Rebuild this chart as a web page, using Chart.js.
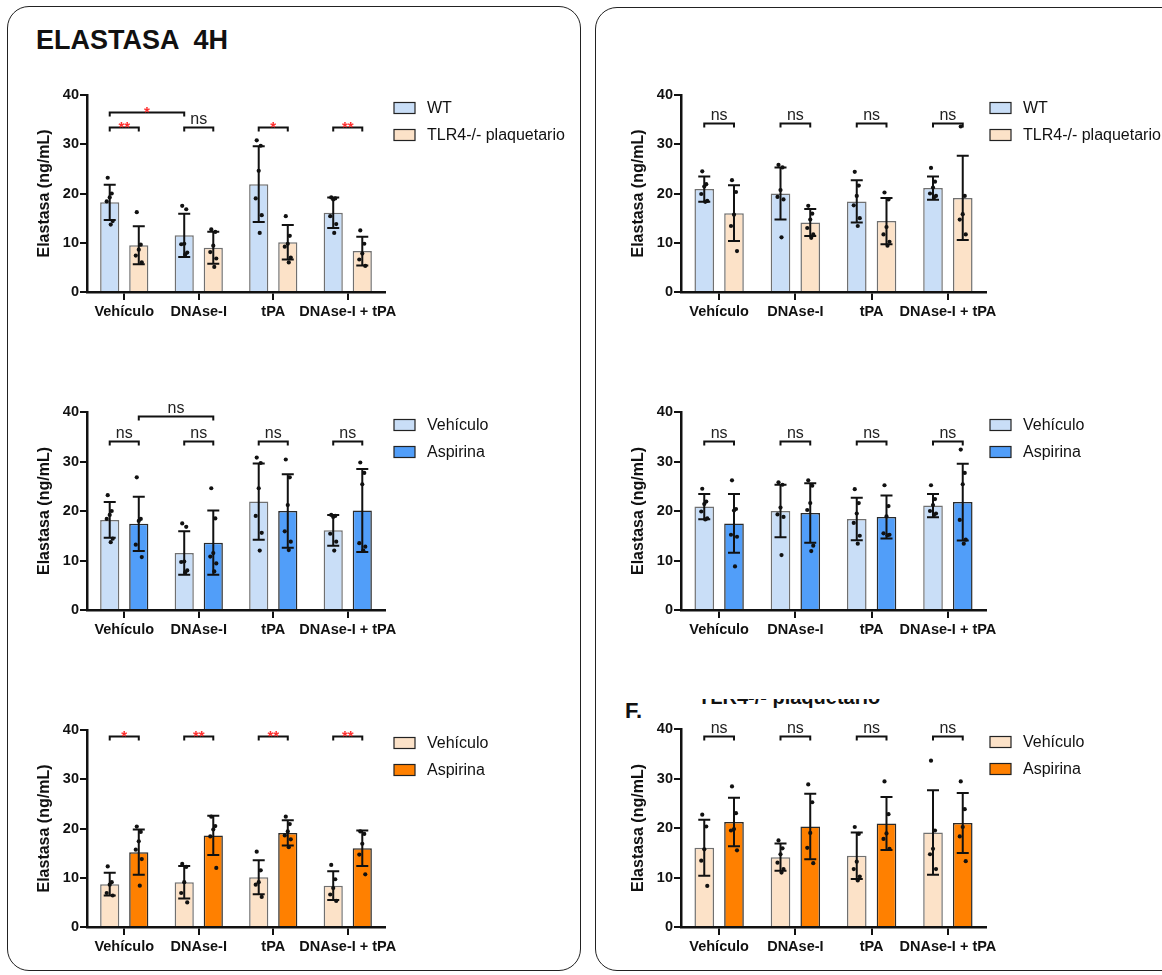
<!DOCTYPE html>
<html>
<head>
<meta charset="utf-8">
<script src="https://cdn.jsdelivr.net/npm/chart.js@4.4.1/dist/chart.umd.min.js"></script>
<style>
  html, body { margin: 0; padding: 0; background: #fff; }
  body { width: 1162px; height: 975px; overflow: hidden; position: relative;
         font-family: "Liberation Sans", Arial, sans-serif; color: #111; }
  .frame { position: absolute; border: 1.5px solid #222; border-radius: 22px; box-sizing: border-box; }
  .panel { position: absolute; }
  .heading { position: absolute; font-weight: bold; line-height: 1; white-space: pre; }
  .clip { position: absolute; overflow: hidden; }
  .clip span { position: absolute; left: 0; white-space: pre; font-weight: bold; line-height: 1; }
</style>
</head>
<body>
<div class="frame" style="left:7px;top:6px;width:574px;height:965px"></div>
<div class="frame" style="left:595px;top:7px;width:620px;height:964px"></div>

<div class="heading" style="left:36px;top:27px;font-size:27px">ELASTASA  4H</div>
<div class="heading" style="left:625px;top:700.4px;font-size:22px">F.</div>
<div class="clip" style="left:698px;top:699px;width:200px;height:11px">
  <span style="top:-12px;font-size:20px">TLR4-/- plaquetario</span>
</div>

<div class="panel" style="left:10px;top:65px"><canvas id="cTopLeft" width="568" height="259"></canvas></div>
<div class="panel" style="left:10px;top:382px"><canvas id="cMidLeft" width="568" height="260"></canvas></div>
<div class="panel" style="left:10px;top:700px"><canvas id="cBotLeft" width="568" height="259"></canvas></div>
<div class="panel" style="left:600px;top:65px"><canvas id="cTopRight" width="562" height="259"></canvas></div>
<div class="panel" style="left:600px;top:382px"><canvas id="cMidRight" width="562" height="260"></canvas></div>
<div class="panel" style="left:600px;top:699px"><canvas id="cBotRight" width="562" height="260"></canvas></div>

<script>
// ---------- categories and axis ----------
const categories = ['Vehículo', 'DNAse-I', 'tPA', 'DNAse-I + tPA'];
const yTicks = [0, 10, 20, 30, 40];
const yTitle = 'Elastasa (ng/mL)';

// ---------- left column: experiment 1 ----------
// WT (also the Vehículo group of the middle-left plot)
const wt1Mean = [18.2, 11.5, 21.9, 16.1];
const wt1Sd = [3.6, 4.4, 7.7, 3.1];
const wt1Points = [
  [23.2, 20.0, 19.2, 18.4, 14.4, 13.7],
  [17.5, 16.8, 9.8, 9.7, 8.0, 7.6],
  [30.8, 29.7, 24.6, 19.0, 15.6, 12.0],
  [19.2, 19.0, 18.8, 15.4, 13.8, 12.0]
];
// TLR4-/- plaquetario
const tlr1Mean = [9.5, 9.0, 10.1, 8.3];
const tlr1Sd = [3.85, 3.25, 3.5, 2.9];
const tlr1Points = [
  [16.2, 9.6, 8.6, 7.4, 6.0],
  [12.7, 12.2, 9.4, 8.1, 6.8, 5.1],
  [15.4, 11.4, 9.8, 9.2, 7.0, 6.0],
  [12.5, 9.8, 7.8, 6.6, 5.3]
];
// Aspirina on WT
const asa1Mean = [17.4, 13.6, 20.0, 20.1];
const asa1Sd = [5.5, 6.5, 7.4, 8.4];
const asa1Points = [
  [26.8, 18.4, 18.0, 13.2, 10.7],
  [24.6, 18.5, 11.5, 10.8, 9.4, 7.8],
  [30.4, 26.8, 21.2, 15.9, 13.8, 12.1],
  [29.8, 27.7, 25.4, 13.5, 12.8, 12.0]
];
// TLR4-/- plaquetario: Vehículo vs Aspirina
const tlrVeh1Mean = [8.7, 9.1, 10.1, 8.4];
const tlrVeh1Sd = [2.3, 3.3, 3.45, 2.9];
const tlrVeh1Points = [
  [12.3, 9.1, 8.6, 6.9, 6.4],
  [12.8, 12.2, 9.1, 6.9, 5.0],
  [15.3, 11.5, 9.1, 8.6, 6.1],
  [12.6, 9.7, 7.9, 6.6, 5.3]
];
const tlrAsa1Mean = [15.2, 18.6, 19.1, 16.0];
const tlrAsa1Sd = [4.6, 4.0, 2.55, 3.6];
const tlrAsa1Points = [
  [20.4, 19.3, 17.4, 15.7, 13.8, 8.4],
  [22.4, 20.5, 19.8, 18.4, 12.0],
  [22.4, 20.9, 19.4, 18.6, 17.8, 16.2],
  [19.4, 18.9, 16.9, 14.7, 10.7]
];

// ---------- right column: experiment 2 ----------
const wt2Mean = [20.9, 20.0, 18.4, 21.1];
const wt2Sd = [2.55, 5.3, 4.3, 2.35];
const wt2Points = [
  [24.5, 21.9, 21.4, 19.9, 18.5, 18.3],
  [25.8, 25.3, 20.7, 19.3, 18.8, 11.1],
  [24.4, 21.6, 19.5, 17.6, 15.0, 13.4],
  [25.2, 22.4, 21.2, 20.0, 19.5, 19.2]
];
const tlr2Mean = [16.0, 14.1, 14.4, 19.1];
const tlr2Sd = [5.65, 2.75, 4.7, 8.55];
const tlr2Points = [
  [22.7, 20.3, 15.7, 13.4, 8.3],
  [17.5, 15.9, 14.7, 13.0, 11.7, 11.0],
  [20.2, 18.8, 13.2, 11.7, 10.2, 9.4],
  [33.6, 19.5, 15.8, 14.7, 11.7]
];
const asa2Mean = [17.5, 19.6, 18.8, 21.8];
const asa2Sd = [5.95, 6.0, 4.35, 7.75];
const asa2Points = [
  [26.2, 20.4, 20.1, 15.2, 14.8, 8.8],
  [26.2, 25.1, 21.6, 20.2, 13.0, 11.9],
  [25.2, 21.0, 18.9, 15.5, 15.2, 15.1],
  [32.4, 27.7, 25.4, 18.2, 14.2, 13.4]
];
const tlrAsa2Mean = [21.2, 20.3, 20.9, 21.0];
const tlrAsa2Sd = [4.9, 6.6, 5.35, 6.05];
const tlrAsa2Points = [
  [28.4, 23.0, 19.8, 19.5, 15.5],
  [28.8, 25.2, 19.0, 16.0, 12.9],
  [29.4, 22.8, 18.9, 17.8, 15.8],
  [29.4, 23.8, 20.2, 18.3, 13.3]
];

// ---------- significance labels (pairwise, per category) ----------
const sigTopLeft = ['**', 'ns', '*', '**'];
const sigMidLeft = ['ns', 'ns', 'ns', 'ns'];
const sigBotLeft = ['*', '**', '**', '**'];
const sigTopRight = ['ns', 'ns', 'ns', 'ns'];
const sigMidRight = ['ns', 'ns', 'ns', 'ns'];
const sigBotRight = ['ns', 'ns', 'ns', 'ns'];

// ---------- styling ----------
const FONT = '"Liberation Sans", Arial, sans-serif';
const INK = '#111';
const LIGHT_BLUE = '#C9DEF7', BLUE = '#519EF9', PEACH = '#FCE2C8', ORANGE = '#FF8000';
const EDGE_LIGHT = '#707070', EDGE_DARK = '#2a2a2a';
const JITTER = [-2, 2, 0, -3, 3, 1];

Chart.defaults.font.family = FONT;

const marksPlugin = {
  id: 'marks',
  afterDatasetsDraw(chart, args, opts) {
    const ctx = chart.ctx;
    const ys = chart.scales.y;
    const area = chart.chartArea;
    ctx.save();
    // error bars (mean ± SD) and individual points
    chart.data.datasets.forEach((ds, di) => {
      const meta = chart.getDatasetMeta(di);
      meta.data.forEach((bar, i) => {
        const m = ds.data[i], sd = ds.sd[i];
        const yTop = ys.getPixelForValue(m + sd);
        const yBot = ys.getPixelForValue(m - sd);
        ctx.strokeStyle = INK;
        ctx.lineWidth = 2;
        ctx.beginPath();
        ctx.moveTo(bar.x, yTop); ctx.lineTo(bar.x, yBot);
        ctx.moveTo(bar.x - 6, yTop); ctx.lineTo(bar.x + 6, yTop);
        ctx.moveTo(bar.x - 6, yBot); ctx.lineTo(bar.x + 6, yBot);
        ctx.stroke();
        ctx.fillStyle = INK;
        ds.points[i].forEach((v, k) => {
          ctx.beginPath();
          ctx.arc(bar.x + JITTER[k % JITTER.length], ys.getPixelForValue(v), 2.1, 0, Math.PI * 2);
          ctx.fill();
        });
      });
    });
    // comparison brackets
    (opts.comparisons || []).forEach(c => {
      const a = chart.getDatasetMeta(c.from[0]).data[c.from[1]];
      const b = chart.getDatasetMeta(c.to[0]).data[c.to[1]];
      const py = Math.round(ys.getPixelForValue(c.level)) + 0.5;
      ctx.strokeStyle = INK;
      ctx.lineWidth = 2;
      ctx.beginPath();
      ctx.moveTo(a.x, py + 4); ctx.lineTo(a.x, py); ctx.lineTo(b.x, py); ctx.lineTo(b.x, py + 4);
      ctx.stroke();
      const star = c.text !== 'ns';
      ctx.fillStyle = star ? '#FF3030' : '#222';
      ctx.font = (star ? 'bold 15px ' : '16px ') + FONT;
      ctx.textAlign = 'center';
      ctx.textBaseline = 'alphabetic';
      ctx.fillText(c.text, (a.x + b.x) / 2, star ? py + 4 : py - 4);
    });
    // legend
    const lx = area.right + opts.legendGap;
    chart.data.datasets.forEach((ds, di) => {
      const cy = area.top + 13 + di * 27;
      ctx.fillStyle = ds.backgroundColor;
      ctx.fillRect(lx, cy - 5.5, 21, 11);
      ctx.strokeStyle = '#222';
      ctx.lineWidth = 1.2;
      ctx.strokeRect(lx, cy - 5.5, 21, 11);
      ctx.fillStyle = INK;
      ctx.font = '16px ' + FONT;
      ctx.textAlign = 'left';
      ctx.textBaseline = 'middle';
      ctx.fillText(ds.label, lx + 33, cy + 1);
    });
    ctx.restore();
  }
};

function pairBrackets(sig, level) {
  return sig.map((text, i) => ({ from: [0, i], to: [1, i], level, text }));
}

function series(label, mean, sd, points, fill, edge) {
  return { label, data: mean, sd, points, backgroundColor: fill, borderColor: edge,
           borderWidth: 1.5, categoryPercentage: 0.78, barPercentage: 0.66 };
}

function buildChart(id, geom, datasets, comparisons) {
  const tickFont = { family: FONT, size: 14.5, weight: 'bold' };
  return new Chart(document.getElementById(id), {
    type: 'bar',
    data: { labels: categories, datasets },
    options: {
      responsive: false,
      animation: false,
      devicePixelRatio: 1,
      layout: { padding: { top: geom.padTop, right: geom.padRight, left: 0, bottom: 0 } },
      plugins: {
        legend: { display: false },
        tooltip: { enabled: false },
        marks: { comparisons, legendGap: geom.legendGap }
      },
      scales: {
        x: {
          offset: true,
          grid: { offset: false, drawOnChartArea: false, drawTicks: true, tickLength: 8, color: INK, lineWidth: 2 },
          border: { display: true, color: INK, width: 2.5 },
          ticks: { color: INK, font: tickFont, padding: 3, maxRotation: 0, autoSkip: false },
          afterFit: s => { s.height = geom.xAxisH; }
        },
        y: {
          min: 0, max: 40,
          afterBuildTicks: s => { s.ticks = yTicks.map(v => ({ value: v })); },
          grid: { drawOnChartArea: false, drawTicks: true, tickLength: 7, color: INK, lineWidth: 2 },
          border: { display: true, color: INK, width: 2.5 },
          ticks: { color: INK, font: tickFont, padding: 1 },
          title: { display: true, text: yTitle, color: INK,
                   font: { family: FONT, size: 16, weight: 'bold' },
                   padding: { top: geom.titlePad, bottom: 0 } },
          afterFit: s => { s.width = geom.yAxisW; }
        }
      }
    },
    plugins: [marksPlugin]
  });
}

const leftGeom = (padTop) => ({ padTop, padRight: 193, xAxisH: 32, yAxisW: 77, titlePad: 24.9, legendGap: 9 });
const rightGeom = (padTop) => ({ padTop, padRight: 176, xAxisH: 32, yAxisW: 81, titlePad: 28.8, legendGap: 4 });

buildChart('cTopLeft', leftGeom(30),
  [series('WT', wt1Mean, wt1Sd, wt1Points, LIGHT_BLUE, EDGE_LIGHT),
   series('TLR4-/- plaquetario', tlr1Mean, tlr1Sd, tlr1Points, PEACH, EDGE_LIGHT)],
  pairBrackets(sigTopLeft, 33.5).concat([{ from: [0, 0], to: [0, 1], level: 36.5, text: '*' }]));

buildChart('cMidLeft', leftGeom(30),
  [series('Vehículo', wt1Mean, wt1Sd, wt1Points, LIGHT_BLUE, EDGE_LIGHT),
   series('Aspirina', asa1Mean, asa1Sd, asa1Points, BLUE, EDGE_DARK)],
  pairBrackets(sigMidLeft, 34.2).concat([{ from: [1, 0], to: [1, 1], level: 39.2, text: 'ns' }]));

buildChart('cBotLeft', leftGeom(30),
  [series('Vehículo', tlrVeh1Mean, tlrVeh1Sd, tlrVeh1Points, PEACH, EDGE_LIGHT),
   series('Aspirina', tlrAsa1Mean, tlrAsa1Sd, tlrAsa1Points, ORANGE, EDGE_DARK)],
  pairBrackets(sigBotLeft, 38.8));

buildChart('cTopRight', rightGeom(30),
  [series('WT', wt2Mean, wt2Sd, wt2Points, LIGHT_BLUE, EDGE_LIGHT),
   series('TLR4-/- plaquetario', tlr2Mean, tlr2Sd, tlr2Points, PEACH, EDGE_LIGHT)],
  pairBrackets(sigTopRight, 34.4));

buildChart('cMidRight', rightGeom(30),
  [series('Vehículo', wt2Mean, wt2Sd, wt2Points, LIGHT_BLUE, EDGE_LIGHT),
   series('Aspirina', asa2Mean, asa2Sd, asa2Points, BLUE, EDGE_DARK)],
  pairBrackets(sigMidRight, 34.2));

buildChart('cBotRight', rightGeom(30),
  [series('Vehículo', tlr2Mean, tlr2Sd, tlr2Points, PEACH, EDGE_LIGHT),
   series('Aspirina', tlrAsa2Mean, tlrAsa2Sd, tlrAsa2Points, ORANGE, EDGE_DARK)],
  pairBrackets(sigBotRight, 38.5));
</script>
</body>
</html>
